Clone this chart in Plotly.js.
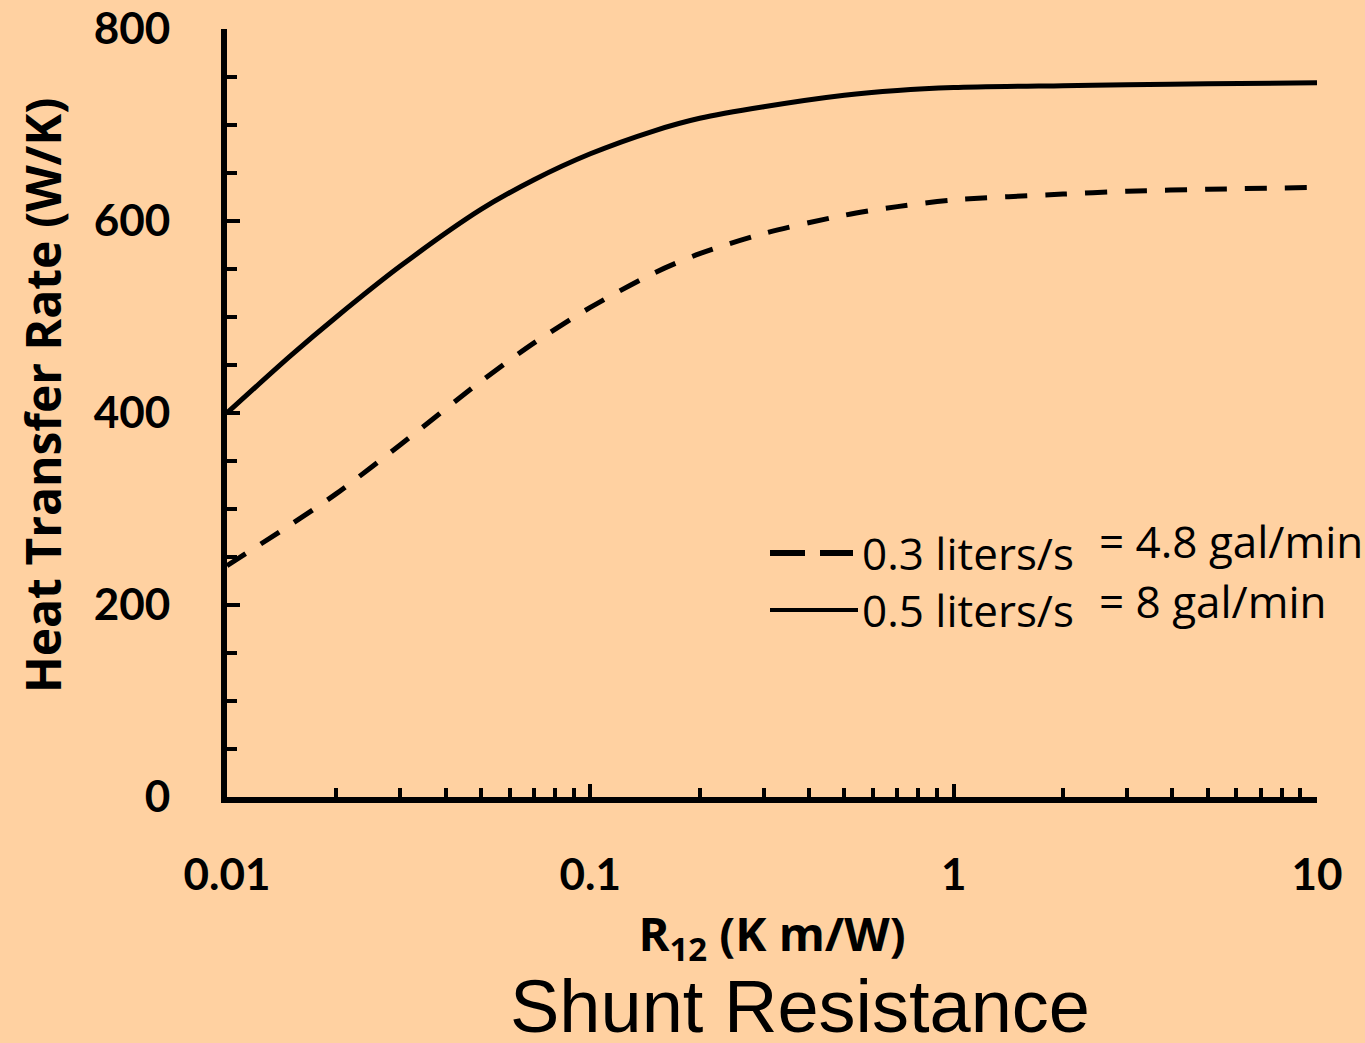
<!DOCTYPE html>
<html>
<head>
<meta charset="utf-8">
<script src="https://cdn.plot.ly/plotly-3.0.1.min.js"></script>
<style>html,body{margin:0;padding:0;background:#FFD1A1;}#chart{width:1365px;height:1043px;}</style>
</head>
<body>
<div id="chart"></div>
<script>
// Shunt resistance R12 (K m/W)
const r12 = [0.01, 0.015, 0.02, 0.03, 0.05, 0.07, 0.1, 0.15, 0.2, 0.3, 0.5, 0.7, 1, 2, 3, 5, 10];
// Heat transfer rate (W/K), 0.3 liters/s
const q03 = [241, 284, 316, 367, 433, 473, 510, 546, 566, 587, 606, 615, 622, 628, 631, 633, 635];
// Heat transfer rate (W/K), 0.5 liters/s
const q05 = [400, 460, 500, 553, 612, 643, 670, 694, 707, 719, 731, 736, 739, 741, 742, 743, 744];
const seriesNames = ["0.3 liters/s", "0.5 liters/s"];
const seriesExtra = ["= 4.8 gal/min", "= 8 gal/min"];
const xTickVals = [0.01, 0.1, 1, 10];
const xTickText = ["0.01", "0.1", "1", "10"];
const yTickVals = [0, 200, 400, 600, 800];

const W = 1365, H = 1043, L = 227, R = 48, T = 29, B = 246;
const pw = W - L - R, ph = H - T - B;
const px = v => (v - L) / pw;
const py = v => (H - B - v) / ph;

const traces = [
  {x: r12, y: q03, mode: 'lines', name: seriesNames[0], line: {color: '#000', width: 5, dash: '22px,18px', shape: 'spline', smoothing: 0.8}, showlegend: false},
  {x: r12, y: q05, mode: 'lines', name: seriesNames[1], line: {color: '#000', width: 5, shape: 'spline', smoothing: 0.8}, showlegend: false}
];

const bg = '#FFD1A1';
const tf = {family: 'Lato', size: 44, weight: 'bold', color: '#000'};
const lf = {family: 'Open Sans', size: 44, color: '#000'};
const layout = {
  width: W, height: H,
  paper_bgcolor: bg, plot_bgcolor: bg,
  margin: {l: L, r: R, t: T, b: B},
  font: {family: 'Open Sans, sans-serif', color: '#000'},
  xaxis: {
    type: 'log', range: [-2, 1],
    tickvals: xTickVals, ticktext: xTickText,
    ticks: 'inside', ticklen: 13, tickwidth: 4, tickcolor: '#000',
    showline: true, linewidth: 6, linecolor: '#000',
    showgrid: false, zeroline: false,
    ticklabelstandoff: 34,
    tickfont: tf,
    minor: {dtick: 'D1', ticks: 'inside', ticklen: 9, tickwidth: 4, tickcolor: '#000', showgrid: false},
    title: {text: '<b>R<sub>12</sub> (K m/W)</b>', font: {family: 'Open Sans', size: 47, color: '#000'}, standoff: 22}
  },
  yaxis: {
    range: [0, 800],
    tickvals: yTickVals,
    ticks: 'inside', ticklen: 13, tickwidth: 4, tickcolor: '#000',
    showline: true, linewidth: 6, linecolor: '#000',
    showgrid: false, zeroline: false,
    ticklabelstandoff: 42,
    tickfont: tf,
    minor: {dtick: 50, ticks: 'inside', ticklen: 10, tickwidth: 4, tickcolor: '#000', showgrid: false}
  },
  shapes: [
    {type: 'line', xref: 'paper', yref: 'paper', x0: px(770), x1: px(805), y0: py(553), y1: py(553), line: {color: '#000', width: 6}},
    {type: 'line', xref: 'paper', yref: 'paper', x0: px(820), x1: px(853), y0: py(553), y1: py(553), line: {color: '#000', width: 6}},
    {type: 'line', xref: 'paper', yref: 'paper', x0: px(770), x1: px(858), y0: py(610), y1: py(610), line: {color: '#000', width: 4}}
  ],
  annotations: [
    {xref: 'paper', yref: 'paper', x: px(42), y: py(395), xanchor: 'center', yanchor: 'middle', textangle: -90, showarrow: false, text: '<b>Heat Transfer Rate (W/K)</b>', font: {family: 'Open Sans', size: 48, color: '#000'}},
    {xref: 'paper', yref: 'paper', x: px(860), y: py(553), xanchor: 'left', yanchor: 'middle', showarrow: false, text: seriesNames[0], font: lf},
    {xref: 'paper', yref: 'paper', x: px(1097), y: py(541), xanchor: 'left', yanchor: 'middle', showarrow: false, text: seriesExtra[0], font: lf},
    {xref: 'paper', yref: 'paper', x: px(860), y: py(610), xanchor: 'left', yanchor: 'middle', showarrow: false, text: seriesNames[1], font: lf},
    {xref: 'paper', yref: 'paper', x: px(1097), y: py(601), xanchor: 'left', yanchor: 'middle', showarrow: false, text: seriesExtra[1], font: lf},
    {xref: 'paper', yref: 'paper', x: px(800), y: py(1006), xanchor: 'center', yanchor: 'middle', showarrow: false, text: 'Shunt Resistance', font: {family: 'Liberation Sans, Arial', size: 74, color: '#000'}}
  ]
};

Plotly.newPlot('chart', traces, layout, {staticPlot: true, displayModeBar: false});
</script>
</body>
</html>
